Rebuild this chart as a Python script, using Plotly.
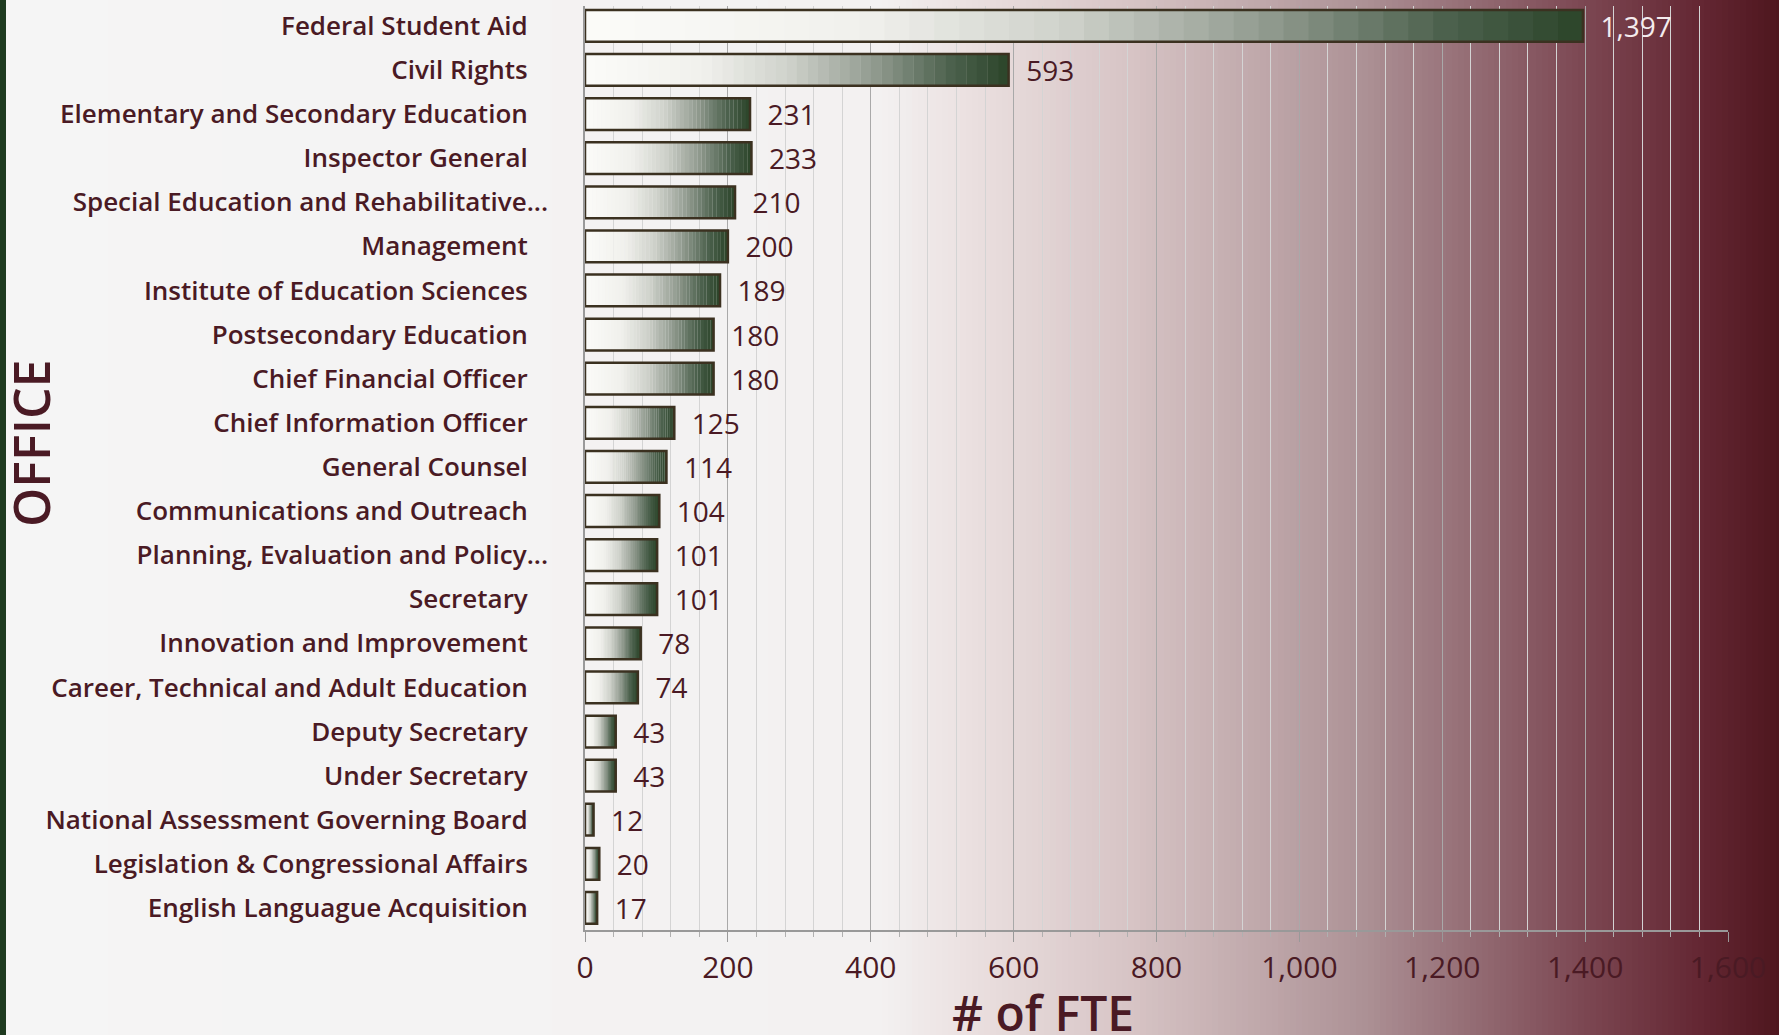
import plotly.graph_objects as go

offices = [
    "Federal Student Aid", "Civil Rights", "Elementary and Secondary Education",
    "Inspector General", "Special Education and Rehabilitative...", "Management",
    "Institute of Education Sciences", "Postsecondary Education", "Chief Financial Officer",
    "Chief Information Officer", "General Counsel", "Communications and Outreach",
    "Planning, Evaluation and Policy...", "Secretary", "Innovation and Improvement",
    "Career, Technical and Adult Education", "Deputy Secretary", "Under Secretary",
    "National Assessment Governing Board", "Legislation & Congressional Affairs",
    "English Languague Acquisition",
]
fte = [1397, 593, 231, 233, 210, 200, 189, 180, 180, 125, 114, 104, 101, 101, 78, 74, 43, 43, 12, 20, 17]
x_ticks = [0, 200, 400, 600, 800, 1000, 1200, 1400, 1600]

W, H = 1779, 1035
ML, MR, MT, MB = 585, 51, 6, 105
PW, PH = W - ML - MR, H - MT - MB
TXT = "#4a1a24"


def hex2rgb(h):
    h = h.lstrip("#")
    return tuple(int(h[i:i + 2], 16) for i in (0, 2, 4))


def lerp(stops, t):
    for (t0, c0), (t1, c1) in zip(stops, stops[1:]):
        if t0 <= t <= t1:
            f = 0 if t1 == t0 else (t - t0) / (t1 - t0)
            a, b = hex2rgb(c0), hex2rgb(c1)
            return "rgb(%d,%d,%d)" % tuple(round(a[k] + (b[k] - a[k]) * f) for k in range(3))
    return stops[-1][1]


bar_stops = [(0.0, "#fbfbf9"), (0.28, "#f0f0ec"), (0.48, "#cfd2cb"), (0.68, "#929b90"),
             (0.86, "#4d624e"), (1.0, "#2b4429")]
N = 40
fig = go.Figure()
for i in range(N):
    fig.add_trace(go.Bar(
        y=offices, x=[v / N * 1.03 for v in fte], base=[v * i / N for v in fte],
        orientation="h", width=0.72, marker=dict(color=lerp(bar_stops, (i + 0.5) / N), line=dict(width=0)),
        hoverinfo="skip", showlegend=False,
    ))

label_colors = ["#f4ecee" if v > 1000 else TXT for v in fte]
fig.add_trace(go.Bar(
    y=offices, x=fte, orientation="h", width=0.72,
    marker=dict(color="rgba(0,0,0,0)", line=dict(color="#3b3120", width=2.5)),
    texttemplate="  %{x:,}", textposition="outside", cliponaxis=False, constraintext="none",
    textfont=dict(size=28, color=label_colors, family="Open Sans", weight=500),
    showlegend=False,
))

# background gradient
bg_stops = [(0, "#f5f5f5"), (880, "#f3f1f1"), (960, "#ece2e2"), (1135, "#d6c3c4"),
            (1361, "#ad9296"), (1475, "#936b73"), (1588, "#7b4651"), (1700, "#642733"), (W, "#4e161e")]
shapes = []
step = 6
for px in range(6, W, step):
    shapes.append(dict(type="rect", xref="paper", yref="paper",
                       x0=(px - ML) / PW, x1=(px + step + 1 - ML) / PW,
                       y0=-MB / PH - 0.01, y1=1 + MT / PH + 0.01,
                       fillcolor=lerp(bg_stops, px + step / 2), line=dict(width=0), layer="below"))
shapes.append(dict(type="rect", xref="paper", yref="paper", x0=-ML / PW - 0.01, x1=(6 - ML) / PW,
                   y0=-MB / PH - 0.01, y1=1 + MT / PH + 0.01, fillcolor="#1e3a1f",
                   line=dict(width=0), layer="below"))

tick_text = [o if o.endswith("...") else o + "\u00a0\u00a0\u00a0" for o in offices]

fig.update_layout(
    width=W, height=H, margin=dict(l=ML, r=MR, t=MT, b=MB),
    paper_bgcolor="#f5f5f5", plot_bgcolor="rgba(0,0,0,0)",
    barmode="overlay", shapes=shapes,
    font=dict(family="Open Sans", color=TXT),
    annotations=[
        dict(text="OFFICE", xref="paper", yref="paper", x=(31 - ML) / PW, y=(930 - 444) / PH,
             textangle=-90, showarrow=False, font=dict(size=50, color=TXT, family="Open Sans", weight=600),
             xanchor="center", yanchor="middle"),
        dict(text="# of FTE", xref="paper", yref="paper", x=(1043 - ML) / PW, y=-(978 - 930) / PH,
             showarrow=False, font=dict(size=48, color=TXT, family="Open Sans", weight=600),
             xanchor="center", yanchor="top"),
    ],
)
fig.update_xaxes(
    range=[0, 1600], tickvals=x_ticks, tickformat=",", showgrid=True, gridcolor="#a9a9a9", gridwidth=1.2,
    minor=dict(dtick=40, showgrid=True, gridcolor="#d4d4d4", ticks="outside", ticklen=5, tickcolor="#b0b0b0"),
    ticks="outside", ticklen=10, tickcolor="#999999", showline=True, linecolor="#999999", linewidth=2,
    tickfont=dict(size=30, color=TXT, weight=500), zeroline=False,
)
fig.update_yaxes(
    autorange=False, range=[20.5, -0.45], showline=True, linecolor="#999999", linewidth=1.5,
    tickvals=offices, ticktext=tick_text,
    ticks="", ticklabelstandoff=30, tickfont=dict(size=26, color=TXT, weight=600), showgrid=False,
)
fig.write_html("out.html", config={"displayModeBar": False},
               post_script="document.body.style.margin='0';document.body.style.overflow='hidden';")
